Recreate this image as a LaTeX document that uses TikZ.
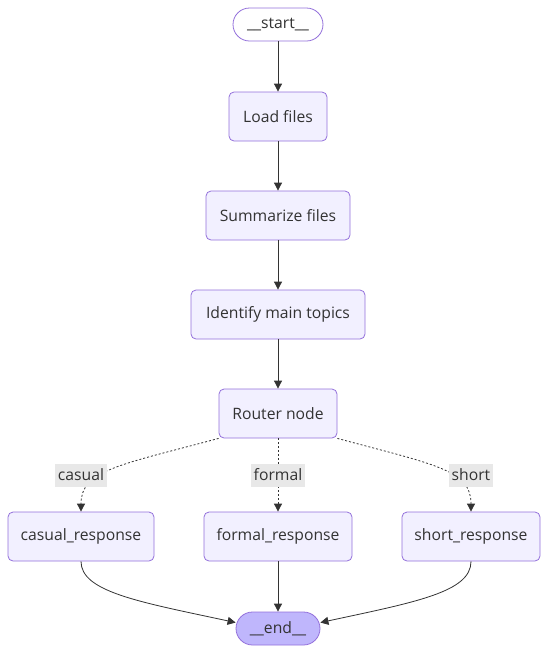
\documentclass[tikz,border=0pt]{standalone}
\usepackage{fontspec}
\setmainfont{Open Sans}
\usepackage{xcolor}
\usetikzlibrary{arrows.meta, positioning, calc}
\definecolor{grFill}{HTML}{F2F0FF}
\definecolor{grLine}{HTML}{9370DB}
\definecolor{grLast}{HTML}{BFB6FC}
\definecolor{grEdge}{HTML}{333333}
\definecolor{grLabel}{HTML}{E8E8E8}

\begin{document}
\begin{tikzpicture}[x=1pt, y=-1pt,
    font=\fontsize{15.7}{18}\selectfont, text=grEdge,
    step box/.style={draw=grLine, fill=grFill, line width=0.8pt,
                rounded corners=5pt, align=center, minimum height=49pt},
    term/.style={draw=grLine, fill=#1, line width=0.8pt,
                rounded corners=16.5pt, minimum height=33pt},
    lbl/.style={fill=grLabel, inner sep=2.5pt, minimum height=23pt},
    arr/.style={-{Triangle[length=8pt, width=8pt]}, line width=0.8pt, draw=grEdge},
    cond/.style={arr, dash pattern=on 2pt off 2pt}]
\useasboundingbox (0,0) rectangle (548,654);

% MAIN CHAIN
\node[term=white, minimum width=90pt] (start) at (278, 24.5) {\_\_start\_\_};
\node[step box, minimum width=98pt] (load) at (278, 116.5) {Load files};
\node[step box, minimum width=144pt] (summ) at (278, 215.5) {Summarize files};
\node[step box, minimum width=174pt] (topics) at (278, 314.5) {Identify main topics};
\node[step box, minimum width=118pt] (router) at (278, 413.5) {Router node};

% RESPONSES
\node[step box, minimum width=146pt] (casual) at (81, 536.5) {casual\_response};
\node[step box, minimum width=148pt] (formal) at (278, 536.5) {formal\_response};
\node[step box, minimum width=138pt] (short) at (471, 536.5) {short\_response};

\node[term=grLast, minimum width=84pt] (end) at (278, 628.5) {\_\_end\_\_};

% Flow lines
\foreach \a/\b in {start/load, load/summ, summ/topics, topics/router, formal/end}
   \draw[arr] (\a.south) -- (\b.north);

% Conditional edges
\draw[cond] (router.south west) .. controls (120,465) and (81,470) .. (casual.north);
\draw[cond] (router.south) -- (formal.north);
\draw[cond] (router.south east) .. controls (436,465) and (471,470) .. (short.north);

\node[lbl] (lcasual) at (81, 475) {casual};
\node[lbl] (lformal) at (278, 475) {formal};
\node[lbl] (lshort) at (471, 475) {short};

% Into the end
\draw[arr] (casual.south) .. controls (81,592) and (140,602) .. (end.172);
\draw[arr] (short.south) .. controls (471,592) and (416,602) .. (end.8);

\end{tikzpicture}
\end{document}
